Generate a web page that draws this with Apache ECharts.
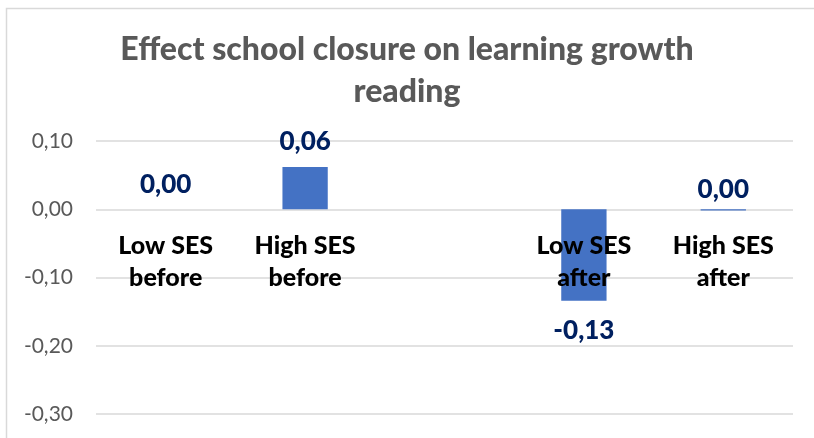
<!DOCTYPE html>
<html>
<head>
<meta charset="utf-8">
<script src="https://cdn.jsdelivr.net/npm/echarts@6/dist/echarts.min.js"></script>
<style>html,body{margin:0;padding:0;background:#fff}#c{width:814px;height:438px}</style>
</head>
<body>
<div id="c"></div>
<script>
var titleText = 'Effect school closure on learning growth\nreading';
var categories = ['Low SES\nbefore', 'High SES\nbefore', '', 'Low SES\nafter', 'High SES\nafter'];
var values = [0, 0.062, null, -0.134, -0.002];
var labelPositions = ['top', 'top', 'top', 'bottom', 'top'];
var labelDistances = [12, 12, 12, 17, 7];
var yTicks = { min: -0.30, max: 0.10, interval: 0.10 };

function fmt(v) {
  var s = v.toFixed(2);
  if (parseFloat(s) === 0) s = '0.00';
  return s.replace('.', ',');
}

var chart = echarts.init(document.getElementById('c'), null, { renderer: 'canvas' });
var FONT = 'Lato';
var data = values.map(function (v, i) {
  return {
    value: v,
    label: { position: labelPositions[i], distance: labelDistances[i] }
  };
});

chart.setOption({
  animation: false,
  backgroundColor: '#ffffff',
  title: {
    text: titleText,
    left: 'center',
    top: 24,
    textStyle: { fontFamily: FONT, fontWeight: 900, fontSize: 32, color: '#595959', lineHeight: 42 }
  },
  graphic: [{
    type: 'rect',
    shape: { x: 6.5, y: 8.5, width: 830, height: 450 },
    style: { fill: 'none', stroke: '#d9d9d9', lineWidth: 1.5 },
    silent: true
  }],
  grid: { left: 96, right: 21, top: 141, bottom: 24, outerBoundsMode: 'none', containLabel: false },
  xAxis: {
    type: 'category',
    data: categories,
    position: 'bottom',
    offset: -205,
    axisLine: { show: false, onZero: false },
    axisTick: { show: false },
    axisLabel: {
      interval: 0,
      margin: 21,
      fontFamily: FONT,
      fontWeight: 900,
      fontSize: 25,
      lineHeight: 32,
      color: '#000000'
    },
    splitLine: { show: false },
    z: 10
  },
  yAxis: {
    type: 'value',
    min: yTicks.min,
    max: yTicks.max,
    interval: yTicks.interval,
    axisLine: { show: false },
    axisTick: { show: false },
    axisLabel: {
      margin: 23,
      fontFamily: FONT,
      fontSize: 21,
      color: '#595959',
      formatter: function (v) { return fmt(v); }
    },
    splitLine: { lineStyle: { color: '#d9d9d9', width: 1.5 } }
  },
  series: [{
    type: 'bar',
    data: data,
    barWidth: '32.5%',
    itemStyle: { color: '#4472C4' },
    z: 2,
    label: {
      show: true,
      fontFamily: FONT,
      fontWeight: 900,
      fontSize: 26,
      color: '#002060',
      formatter: function (p) { return p.value == null ? '' : fmt(p.value); }
    }
  }]
});
</script>
</body>
</html>
